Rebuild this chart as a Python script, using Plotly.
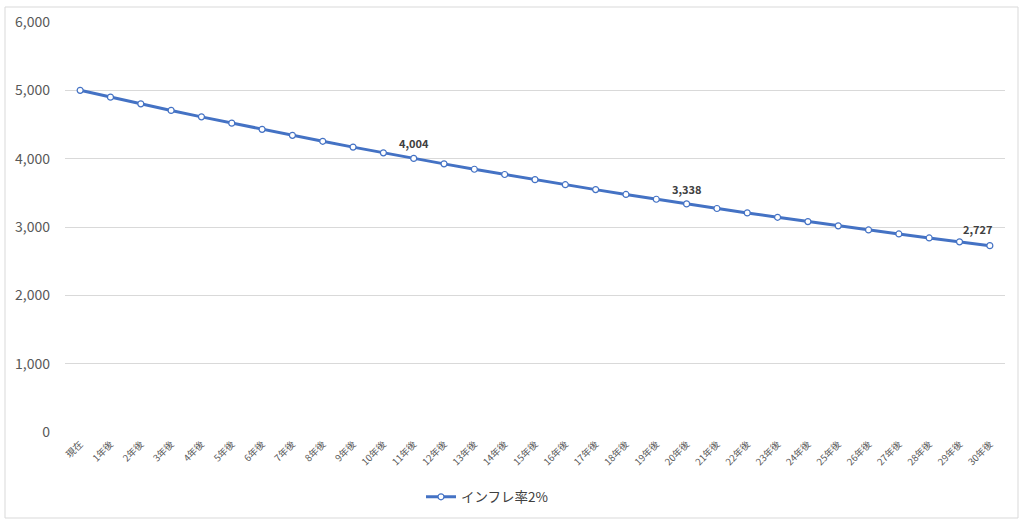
import plotly.graph_objects as go

categories = ["現在"] + [f"{i}年後" for i in range(1, 31)]
values = [5000, 4900, 4802, 4706, 4612, 4520, 4429, 4341, 4254, 4169,
          4085, 4004, 3924, 3845, 3768, 3693, 3619, 3547, 3476, 3406,
          3338, 3271, 3206, 3142, 3079, 3017, 2957, 2898, 2840, 2783, 2727]
series_name = "インフレ率2%"
labeled_idx = [11, 20, 30]

FONT = "Noto Sans CJK JP"

fig = go.Figure()
fig.add_trace(go.Scatter(
    x=list(range(len(categories))), y=values, name=series_name,
    mode="lines+markers",
    line=dict(color="#4472C4", width=3),
    marker=dict(size=6, color="white", line=dict(color="#4472C4", width=1.2)),
    cliponaxis=False,
))

for i in labeled_idx:
    last = i == len(values) - 1
    fig.add_annotation(
        x=i, y=values[i], text=f"{values[i]:,}", showarrow=False,
        xshift=-12 if last else 0, yshift=17 if last else 15,
        font=dict(family=FONT, size=11, color="#404040", weight="bold"),
    )

W, H = 1024, 526
L, R, T, B = 65, 19, 22, 94
pw, ph = W - L - R, H - T - B

def px(x):
    return (x - L) / pw

def py(y):
    return (H - B - y) / ph

fig.update_layout(
    width=W, height=H,
    margin=dict(l=L, r=R, t=T, b=B),
    paper_bgcolor="white", plot_bgcolor="white",
    font=dict(family=FONT, color="#595959"),
    showlegend=True,
    legend=dict(orientation="h", x=px(421), xanchor="left", y=py(497), yanchor="middle",
                font=dict(size=13.5, color="#404040", family=FONT)),
    xaxis=dict(
        tickmode="array", tickvals=list(range(len(categories))), ticktext=categories,
        range=[-0.5, len(categories) - 0.5], tickangle=-45,
        tickfont=dict(size=9.5, color="#595959"),
        showgrid=False, zeroline=False, showline=False, ticks="",
        ticklabelstandoff=4,
    ),
    yaxis=dict(
        range=[0, 6000], tickvals=[0, 1000, 2000, 3000, 4000, 5000, 6000],
        tickformat=",", tickfont=dict(size=14, color="#595959"),
        gridcolor="#D9D9D9", gridwidth=1, zeroline=False, showline=False,
        ticks="", ticklen=0, ticklabelstandoff=14,
    ),
    shapes=[dict(type="rect", xref="paper", yref="paper",
                 x0=px(5), x1=px(1018), y0=py(518), y1=py(7),
                 line=dict(color="#D9D9D9", width=1), fillcolor="rgba(0,0,0,0)", layer="below")],
)

fig.write_html("out.html")
